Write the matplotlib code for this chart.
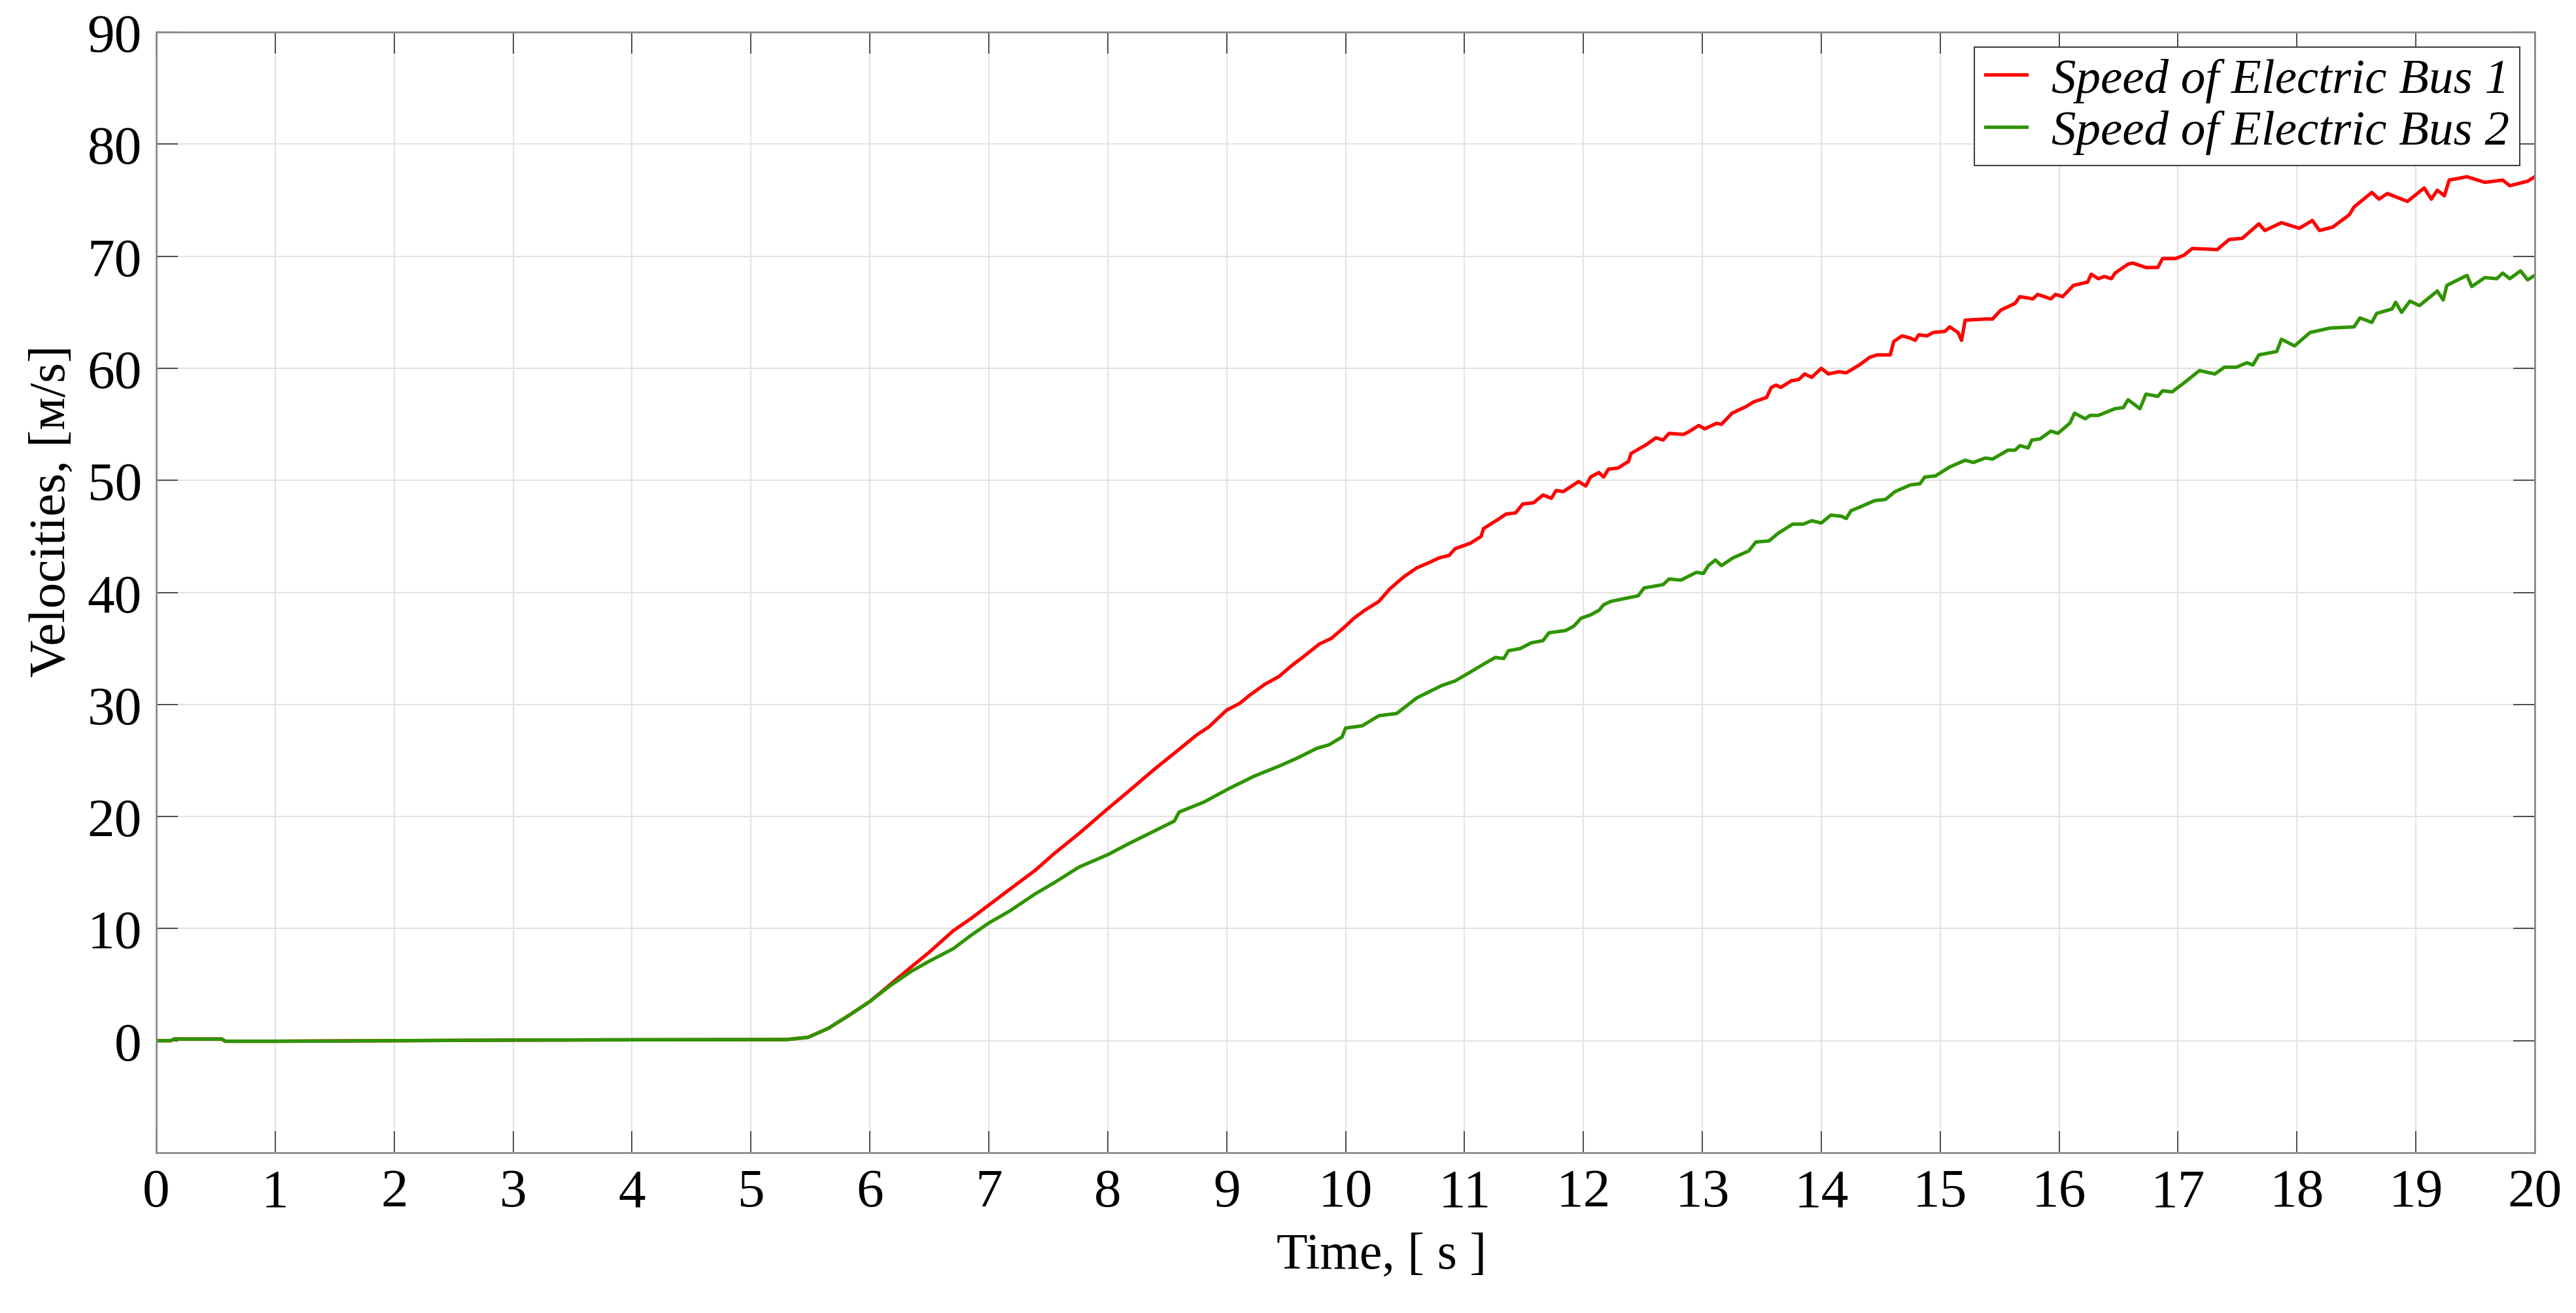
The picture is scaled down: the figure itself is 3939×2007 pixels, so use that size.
import matplotlib
matplotlib.use("Agg")
import matplotlib.pyplot as plt

plt.rcParams['font.family'] = ['Liberation Serif', 'DejaVu Serif']

# values (time in s, speed in m/s)
time_bus1 = [0.0, 0.12, 0.15, 0.55, 0.58, 1.0, 2.0, 3.0, 4.0, 5.0, 5.3, 5.48, 5.65,
             5.83, 6.0, 6.17, 6.35, 6.5, 6.7, 6.85, 7.0, 7.2, 7.39, 7.55, 7.76,
             8.0, 8.18, 8.39, 8.6, 8.75, 8.85, 9.0, 9.11, 9.19, 9.32, 9.44, 9.55,
             9.65, 9.78, 9.88, 9.99, 10.07, 10.16, 10.28, 10.37, 10.49, 10.6, 10.71,
             10.79, 10.87, 10.92, 11.05, 11.14, 11.16, 11.28, 11.35, 11.43, 11.49,
             11.58, 11.66, 11.73, 11.77, 11.83, 11.96, 12.02, 12.06, 12.13, 12.17,
             12.21, 12.29, 12.38, 12.4, 12.53, 12.61, 12.67, 12.72, 12.84, 12.88,
             12.97, 13.02, 13.12, 13.16, 13.25, 13.37, 13.43, 13.54, 13.58, 13.62,
             13.66, 13.75, 13.81, 13.86, 13.92, 14.0, 14.06, 14.15, 14.21, 14.32,
             14.41, 14.47, 14.58, 14.61, 14.68, 14.75, 14.79, 14.82, 14.89, 14.94,
             15.04, 15.08, 15.15, 15.18, 15.21, 15.38, 15.44, 15.51, 15.63, 15.67,
             15.78, 15.82, 15.93, 15.97, 16.03, 16.12, 16.24, 16.27, 16.33, 16.38,
             16.44, 16.47, 16.58, 16.62, 16.73, 16.83, 16.87, 16.98, 17.05, 17.12,
             17.33, 17.43, 17.54, 17.68, 17.73, 17.87, 18.02, 18.13, 18.19, 18.3,
             18.44, 18.48, 18.63, 18.69, 18.76, 18.93, 19.07, 19.13, 19.18, 19.24,
             19.28, 19.43, 19.58, 19.73, 19.79, 19.94, 20.0]
speed_bus1 = [0.0, 0.0, 0.15, 0.15, -0.05, -0.05, 0.0, 0.05, 0.08, 0.1, 0.1, 0.3, 1.1,
              2.3, 3.5, 5.0, 6.6, 7.9, 9.8, 10.9, 12.1, 13.7, 15.2, 16.7, 18.5,
              20.7, 22.3, 24.2, 26.0, 27.3, 28.0, 29.5, 30.1, 30.8, 31.8, 32.5, 33.5,
              34.3, 35.4, 35.9, 36.9, 37.7, 38.4, 39.2, 40.3, 41.4, 42.2, 42.7,
              43.1, 43.3, 43.9, 44.4, 45.0, 45.7, 46.5, 47.0, 47.1, 47.9,
              48.0, 48.7, 48.4, 49.1, 49.0, 49.9, 49.5, 50.3, 50.7, 50.3,
              51.0, 51.1, 51.7, 52.4, 53.2, 53.8, 53.6, 54.2, 54.1, 54.3,
              54.9, 54.6, 55.1, 55.0, 56.0, 56.6, 57.0, 57.4, 58.3, 58.5,
              58.3, 58.9, 59.0, 59.5, 59.2, 60.0, 59.5, 59.7, 59.6, 60.3,
              61.0, 61.2, 61.2, 62.4, 62.9, 62.7, 62.5, 63.0, 62.9, 63.2,
              63.3, 63.7, 63.2, 62.5, 64.3, 64.4, 64.4, 65.2, 65.8, 66.4,
              66.2, 66.6, 66.2, 66.6, 66.4, 67.4, 67.7, 68.4, 68.0, 68.2,
              68.0, 68.5, 69.3, 69.4, 69.0, 69.0, 69.8, 69.8, 70.1, 70.7,
              70.6, 71.5, 71.6, 72.9, 72.3, 73.0, 72.5, 73.2, 72.3, 72.6,
              73.7, 74.4, 75.7, 75.1, 75.6, 74.9, 76.1, 75.1, 75.9, 75.4,
              76.8, 77.1, 76.6, 76.8, 76.3, 76.7, 77.1]

time_bus2 = [0.0, 0.12, 0.15, 0.55, 0.58, 1.0, 2.0, 3.0, 4.0, 5.0, 5.3, 5.48, 5.65,
             5.83, 6.0, 6.17, 6.35, 6.5, 6.7, 6.85, 7.0, 7.18, 7.39, 7.55, 7.76,
             8.0, 8.18, 8.39, 8.56, 8.6, 8.81, 9.02, 9.23, 9.44, 9.59, 9.76, 9.86,
             9.97, 10.0, 10.14, 10.28, 10.43, 10.6, 10.81, 10.92, 11.05, 11.16,
             11.26, 11.33, 11.37, 11.47, 11.56, 11.66, 11.71, 11.85, 11.92, 11.98,
             12.06, 12.13, 12.17, 12.23, 12.32, 12.46, 12.51, 12.67, 12.72, 12.82,
             12.95, 13.01, 13.05, 13.11, 13.16, 13.26, 13.39, 13.45, 13.56, 13.64,
             13.76, 13.85, 13.92, 14.0, 14.08, 14.17, 14.21, 14.25, 14.32, 14.45,
             14.54, 14.62, 14.75, 14.83, 14.87, 14.96, 15.08, 15.21, 15.28, 15.38,
             15.44, 15.57, 15.63, 15.67, 15.74, 15.77, 15.84, 15.93, 15.99, 16.09,
             16.13, 16.22, 16.26, 16.33, 16.47, 16.54, 16.58, 16.68, 16.73, 16.83,
             16.87, 16.95, 17.05, 17.18, 17.31, 17.39, 17.49, 17.58, 17.63, 17.68,
             17.83, 17.87, 17.98, 18.11, 18.28, 18.48, 18.53, 18.63, 18.67, 18.8,
             18.83, 18.88, 18.95, 19.03, 19.18, 19.23, 19.26, 19.43, 19.47, 19.58,
             19.68, 19.73, 19.79, 19.88, 19.94, 20.0]
speed_bus2 = [0.0, 0.0, 0.15, 0.15, -0.05, -0.05, 0.0, 0.05, 0.08, 0.1, 0.1, 0.3, 1.1,
              2.3, 3.5, 4.9, 6.2, 7.1, 8.2, 9.4, 10.5, 11.6, 13.1, 14.1, 15.5,
              16.6, 17.6, 18.7, 19.6, 20.4, 21.3, 22.5, 23.6, 24.5, 25.2, 26.1, 26.4,
              27.1, 27.9, 28.1, 29.0, 29.2, 30.6, 31.7, 32.1, 32.9, 33.6,
              34.2, 34.1, 34.8, 35.0, 35.5, 35.7, 36.4, 36.6, 37.0, 37.7,
              38.0, 38.4, 38.9, 39.2, 39.4, 39.7, 40.4, 40.7, 41.2, 41.1,
              41.8, 41.7, 42.4, 42.9, 42.4, 43.1, 43.7, 44.5, 44.6, 45.3,
              46.1, 46.1, 46.4, 46.2, 46.9, 46.8, 46.6, 47.3, 47.6, 48.2,
              48.3, 49.0, 49.6, 49.7, 50.3, 50.4, 51.2, 51.8, 51.6, 52.0,
              51.9, 52.7, 52.7, 53.1, 52.9, 53.6, 53.7, 54.4, 54.2, 55.1,
              56.0, 55.5, 55.8, 55.8, 56.4, 56.5, 57.2, 56.4, 57.7, 57.5,
              58.0, 57.9, 58.7, 59.8, 59.5, 60.1, 60.1, 60.5, 60.3, 61.2,
              61.5, 62.6, 62.0, 63.2, 63.6, 63.7, 64.5, 64.1, 64.9, 65.3,
              65.9, 65.0, 66.0, 65.6, 66.9, 66.1, 67.4, 68.3, 67.3, 68.1,
              68.0, 68.5, 68.0, 68.7, 67.9, 68.3]

labels = ['Speed of Electric Bus 1', 'Speed of Electric Bus 2']
colors = ['#ff0000', '#2f9400']

x_ticks = list(range(0, 21))
y_ticks = list(range(0, 91, 10))

fig = plt.figure(figsize=(39.39, 20.08), dpi=100)
ax = fig.add_axes([0.0607, 0.122, 0.9233, 0.853])

ax.plot(time_bus1, speed_bus1, color=colors[0], lw=3.8, label=labels[0])
ax.plot(time_bus2, speed_bus2, color=colors[1], lw=3.8, label=labels[1])

ax.set_xlim(0, 20)
ax.set_ylim(-10, 90)
ax.set_xticks(x_ticks)
ax.set_yticks(y_ticks)

ax.grid(True, color='#e3e3e3', lw=1.5)
ax.set_axisbelow(True)

for s in ax.spines.values():
    s.set_color('#8a8a8a')
    s.set_linewidth(2.0)

ax.tick_params(direction='in', length=24, width=1.4, color='#4a4a4a',
               top=True, right=True, labelsize=60)
ax.tick_params(axis='x', pad=17)
ax.tick_params(axis='y', pad=16)

ax.set_xlabel('Time, [ s ]', fontsize=56)
ax.set_ylabel('Velocities, [м/s]', fontsize=57)
ax.xaxis.set_label_coords(0.515, -0.071)
ax.yaxis.set_label_coords(-0.034, 0.573)

leg = ax.legend(loc='upper right', prop={'style': 'italic', 'size': 54},
                handlelength=0.85, handletextpad=0.5, borderpad=0.22,
                labelspacing=0.15, fancybox=False, framealpha=1,
                edgecolor='#404040', borderaxespad=0.3)
leg.get_frame().set_linewidth(1.5)

fig.savefig('out.png', dpi=100)
